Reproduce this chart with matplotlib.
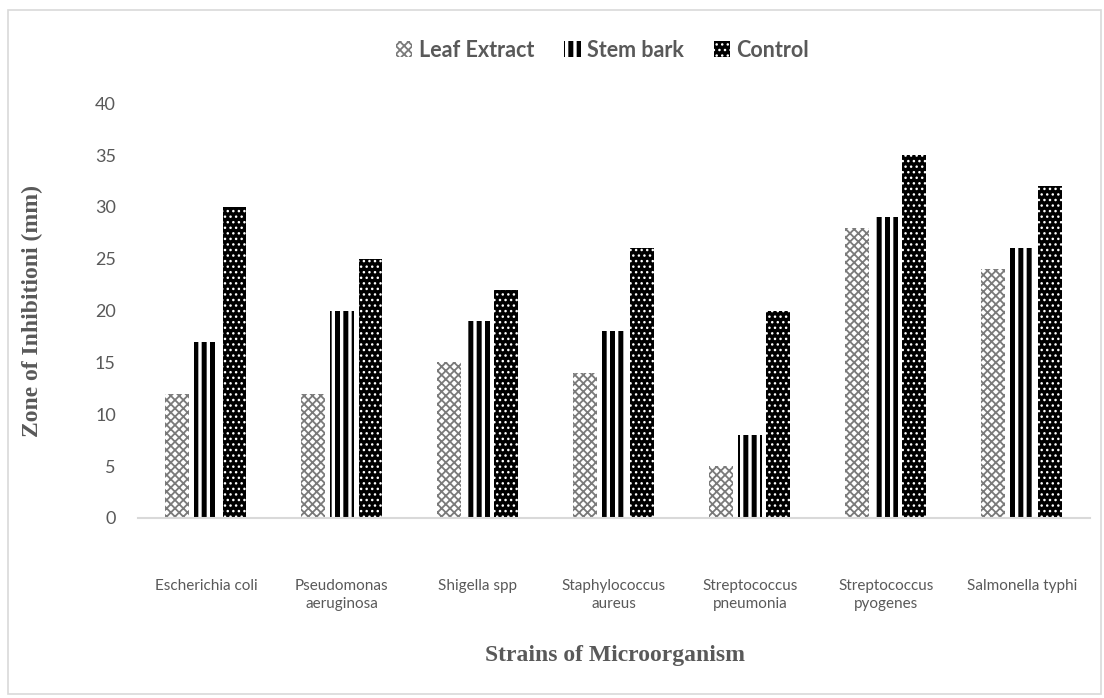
import numpy as np
import matplotlib
matplotlib.use("Agg")
import matplotlib.pyplot as plt
from matplotlib.patches import Rectangle, Patch
from matplotlib.legend_handler import HandlerPatch

strains = ["Escherichia coli", "Pseudomonas\naeruginosa", "Shigella spp",
           "Staphylococcus\naureus", "Streptococcus\npneumonia",
           "Streptococcus\npyogenes", "Salmonella typhi"]
leaf_extract = [12, 12, 15, 14, 5, 28, 24]
stem_bark = [17, 20, 19, 18, 8, 29, 26]
control = [30, 25, 22, 26, 20, 35, 32]
y_ticks = [0, 5, 10, 15, 20, 25, 30, 35, 40]

TEXT = "#595959"
SANS = ["Lato", "DejaVu Sans"]
SERIF = ["Liberation Serif", "DejaVu Serif"]

fig = plt.figure(figsize=(11.04, 6.98), dpi=100)
ax = fig.add_axes([0.125, 0.258, 0.862, 0.594])

x = np.arange(len(strains))
w = 0.176
step = 0.21

styles = [
    dict(label="Leaf Extract", face="white", hatch="xxxx", hc="#7a7a7a", hlw=1.3),
    dict(label="Stem bark", face="white", hatch="||", hc="black", hlw=3.6),
    dict(label="Control", face="black", hatch="...", hc="white", hlw=1.0),
]


def set_hlw(p, lw):
    if hasattr(p, "set_hatch_linewidth"):
        p.set_hatch_linewidth(lw)
    else:
        p._hatch_linewidth = lw


handles = []
for i, (vals, st) in enumerate(zip([leaf_extract, stem_bark, control], styles)):
    plt.rcParams["hatch.linewidth"] = st["hlw"]
    bars = ax.bar(x + (i - 1) * step, vals, width=w, color=st["face"],
                  edgecolor=st["hc"], hatch=st["hatch"], linewidth=0)
    for b in bars:
        set_hlw(b, st["hlw"])
    h = Patch(facecolor=st["face"], edgecolor=st["hc"], hatch=st["hatch"],
              linewidth=0, label=st["label"])
    h.hlw = st["hlw"]
    set_hlw(h, st["hlw"])
    handles.append(h)


class HatchHandler(HandlerPatch):
    def create_artists(self, legend, orig_handle, xdescent, ydescent,
                       width, height, fontsize, trans):
        with plt.rc_context({"hatch.linewidth": orig_handle.hlw}):
            p = Rectangle((-xdescent, -ydescent), width, height)
            self.update_prop(p, orig_handle, legend)
            set_hlw(p, orig_handle.hlw)
        p.set_transform(trans)
        return [p]


ax.set_xlim(-0.5, len(strains) - 0.5)
ax.set_ylim(0, 40)
ax.set_yticks(y_ticks)
ax.set_xticks(x)
ax.set_xticklabels(strains, fontsize=11, color=TEXT, family=SANS, linespacing=1.35)
ax.set_yticklabels([str(t) for t in y_ticks], fontsize=13, color=TEXT, family=SANS)
ax.tick_params(axis="x", length=0, pad=44)
ax.tick_params(axis="y", length=0, pad=16)
for s in ["top", "right", "left"]:
    ax.spines[s].set_visible(False)
ax.spines["bottom"].set_color("#d9d9d9")
ax.spines["bottom"].set_linewidth(1.5)

ax.set_ylabel("Zone of Inhibitioni (mm)", fontsize=17, fontweight="bold",
              color=TEXT, family=SERIF)
ax.yaxis.set_label_coords(-0.1, 0.5)
fig.text(0.557, 0.061, "Strains of Microorganism", ha="center", va="center",
         fontsize=17, fontweight="bold", color=TEXT, family=SERIF)

fig.legend(handles=handles, loc="center", bbox_to_anchor=(0.546, 0.928), ncol=3,
           frameon=False, handlelength=0.75, handleheight=0.75, handletextpad=0.3,
           columnspacing=1.4, handler_map={Patch: HatchHandler()},
           prop={"family": SANS, "weight": "bold", "size": 15.5}, labelcolor=TEXT)

fig.patches.append(Rectangle((0.007, 0.006), 0.99, 0.98, transform=fig.transFigure,
                             fill=False, edgecolor="#d9d9d9", linewidth=1.2))

fig.savefig("out.png", dpi=100)
